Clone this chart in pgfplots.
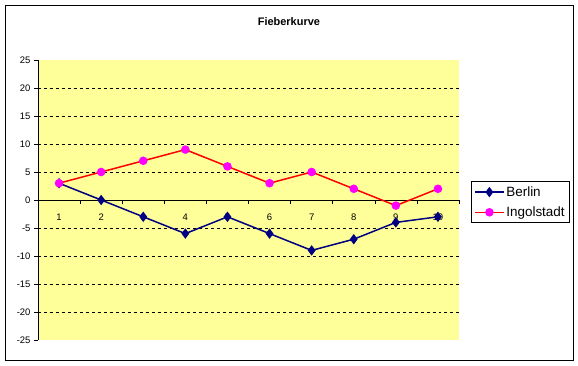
\documentclass[border=0pt]{standalone}
\usepackage{fontspec}
\setmainfont{Liberation Sans}
\usepackage{pgfplots}
\pgfplotsset{compat=1.18}
\definecolor{plotbg}{HTML}{FFFF99}
\definecolor{berlin}{HTML}{000080}
\definecolor{ingred}{HTML}{FF0000}
\definecolor{ingmag}{HTML}{FF00FF}
\begin{document}
\begin{tikzpicture}
\path (0,0) rectangle (578bp,366bp);
\draw[black, line width=1bp] (5.5bp,5.5bp) rectangle (573bp,360.5bp);
\begin{axis}[
  set layers,
  at={(38bp,26bp)}, anchor=south west,
  scale only axis, width=421bp, height=280bp,
  xmin=0.5, xmax=10.5, ymin=-25, ymax=25,
  axis x line=middle, axis y line=left,
  axis line style={-, black, line width=0.8bp},
  axis background/.style={fill=plotbg},
  /pgf/number format/assume math mode=true,
  ticklabel style={font=\fontsize{9.5}{11}\selectfont},
  xtick={0.5,1.5,...,10.5},
  xticklabels={,,,,,,,,,,,},
  extra x ticks={1,2,3,4,5,6,7,8,9,10},
  extra x tick labels={1,2,3,4,5,6,7,8,9,10},
  extra x tick style={major tick length=0pt, xticklabel style={yshift=-10bp}},
  ytick={-20,-15,...,20},
  extra y ticks={-25,25},
  extra y tick style={grid=none},
  ymajorgrids,
  grid style={dashed, black, line width=0.6bp},
  tick align=outside,
  major tick length=4bp,
  tick style={black, line width=0.6bp},
  title={Fieberkurve},
  title style={at={(0.596,1.115)}, anchor=center, font=\fontsize{11}{12}\selectfont\bfseries},
  legend entries={Berlin, Ingolstadt},
  legend cell align=left,
  legend style={at={(1.0285,0.568)}, anchor=north west, draw=black, line width=1bp,
    font=\fontsize{13.5}{15}\selectfont, inner xsep=3bp, inner ysep=3bp, row sep=5bp},
  legend image code/.code={\draw[mark repeat=2,mark phase=2,#1] plot coordinates {(0cm,0cm) (0.5cm,0cm) (1cm,0cm)};},
]
\addplot[berlin, line width=1.5bp, mark=diamond*, mark size=4bp, mark options={solid, fill=berlin, draw=berlin}]
  coordinates {(1,3) (2,0) (3,-3) (4,-6) (5,-3) (6,-6) (7,-9) (8,-7) (9,-4) (10,-3)};
\addplot[ingred, line width=1.5bp, mark=*, mark size=3.5bp, mark options={solid, fill=ingmag, draw=ingmag}]
  coordinates {(1,3) (2,5) (3,7) (4,9) (5,6) (6,3) (7,5) (8,2) (9,-1) (10,2)};
\end{axis}
\end{tikzpicture}
\end{document}
